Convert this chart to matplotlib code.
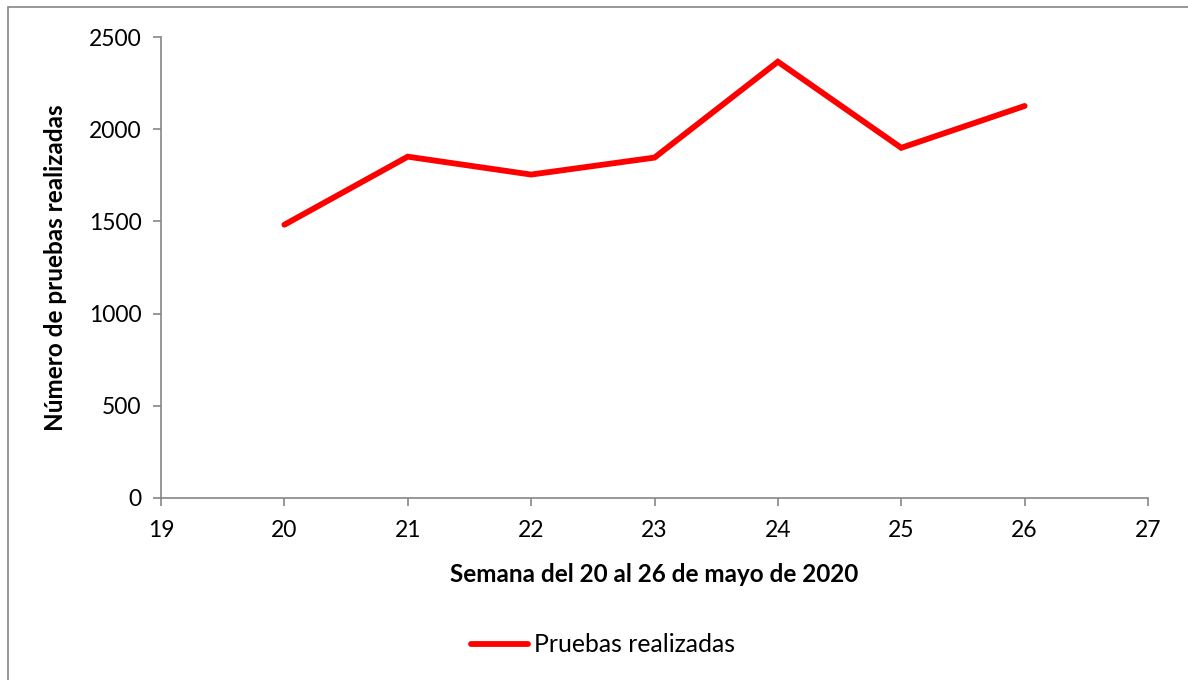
import matplotlib
matplotlib.use("Agg")
import matplotlib.pyplot as plt
from matplotlib.patches import Rectangle
from matplotlib.lines import Line2D

semanas = [20, 21, 22, 23, 24, 25, 26]
pruebas = [1482, 1851, 1754, 1846, 2366, 1899, 2126]
serie = "Pruebas realizadas"
xlabel = "Semana del 20 al 26 de mayo de 2020"
ylabel = "Número de pruebas realizadas"

plt.rcParams['font.family'] = ['Lato', 'DejaVu Sans']

fig = plt.figure(figsize=(11.88, 6.8), dpi=100)
ax = fig.add_axes([161/1188, 1-498/680, (1148-161)/1188, (498-37)/680])

ax.plot(semanas, pruebas, color='#ff0000', lw=4.2, solid_capstyle='round', solid_joinstyle='miter')
ax.set_xlim(19, 27)
ax.set_ylim(0, 2500)
ax.set_xticks(range(19, 28))
ax.set_yticks(range(0, 2501, 500))
for s in ['top', 'right']:
    ax.spines[s].set_visible(False)
for s in ['left', 'bottom']:
    ax.spines[s].set_color('#868686')
    ax.spines[s].set_linewidth(1.2)
ax.tick_params(axis='both', colors='#868686', labelcolor='black', labelsize=16.5, length=6, width=1.2, direction='out')
ax.tick_params(axis='x', pad=10)
ax.tick_params(axis='y', pad=8)
ax.set_xlabel(xlabel, fontsize=17.5, fontweight='bold', labelpad=16)
ax.set_ylabel(ylabel, fontsize=17.5, fontweight='bold', labelpad=16)

handle = Line2D([], [], color='#ff0000', lw=4.2, solid_capstyle='round')
fig.legend([handle], [serie], loc='center', bbox_to_anchor=(603/1188, 1-645/680),
           frameon=False, fontsize=17.8, handlelength=2.3, handletextpad=0.25)

fig.patches.append(Rectangle((8/1188, -0.05), 1.2, 1-7/680+0.05, transform=fig.transFigure,
                             fill=False, edgecolor='#868686', lw=1.2))

fig.savefig("out.png", dpi=100)
